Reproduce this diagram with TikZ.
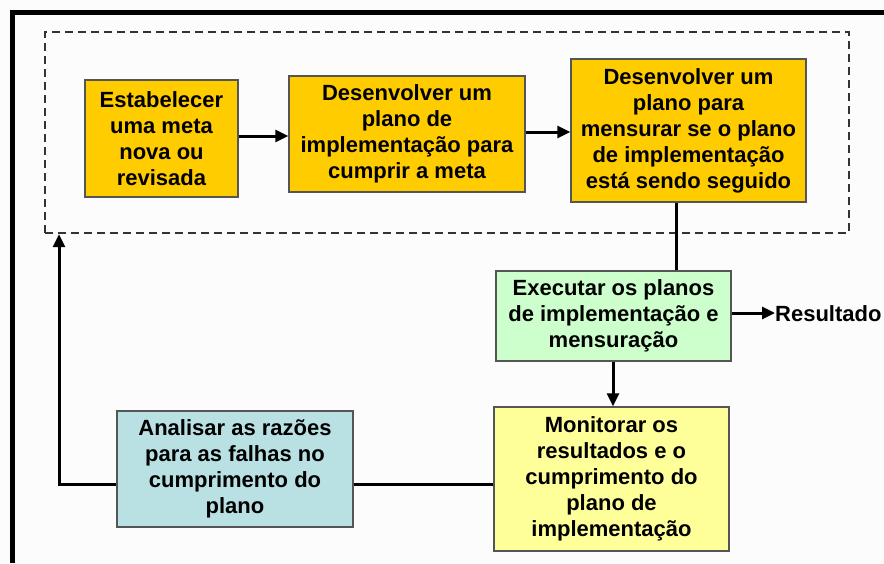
\documentclass[tikz,border=0pt]{standalone}
\usepackage{fontspec}
\setmainfont{Liberation Sans}
\usetikzlibrary{arrows.meta}
\definecolor{gold}{HTML}{FFCC00}
\definecolor{mint}{HTML}{CCFFCC}
\definecolor{paley}{HTML}{FFFF99}
\definecolor{paleb}{HTML}{B9E0E3}
\definecolor{edge}{HTML}{555555}
\tikzset{
  boxnode/.style={draw=edge, line width=1.4pt, inner sep=0pt, align=center,
    font=\fontsize{22}{26}\selectfont\bfseries},
  conn/.style={line width=3pt, black},
  arr/.style={conn, -{Triangle[length=13pt,width=12pt]}},
}
\begin{document}
\begin{tikzpicture}[x=1pt,y=-1pt]
\useasboundingbox (0,0) rectangle (884,563);
\fill[white!99!black] (0,0) rectangle (884,563);
% outer black frame
\fill[black] (10,10) rectangle (884,15);
\fill[black] (10,10) rectangle (15,563);
% dashed group
\node[draw=black!80, line width=2.4pt, dash pattern=on 8pt off 5pt, minimum width=804pt, minimum height=201pt, inner sep=0pt] (grp) at (447,132.5) {};
% boxes
\node[boxnode, fill=gold, minimum width=153pt, minimum height=117pt] (b1) at (161.5,138.5) {Estabelecer\\uma meta\\nova ou\\revisada};
\node[boxnode, fill=gold, minimum width=236pt, minimum height=116pt] (b2) at (407,134) {Desenvolver um\\plano de\\implementação para\\cumprir a meta};
\node[boxnode, fill=gold, minimum width=235pt, minimum height=143pt] (b3) at (688.5,130.5) {Desenvolver um\\plano para\\mensurar se o plano\\de implementação\\está sendo seguido};
\node[boxnode, fill=mint, minimum width=235pt, minimum height=90pt] (b4) at (613.5,316) {Executar os planos\\de implementação e\\mensuração};
\node[boxnode, fill=paley, minimum width=235pt, minimum height=144pt] (b5) at (611.5,479) {Monitorar os\\resultados e o\\cumprimento do\\plano de\\implementação};
\node[boxnode, fill=paleb, minimum width=236pt, minimum height=116pt] (b6) at (235,469) {Analisar as razões\\para as falhas no\\cumprimento do\\plano};
\node[font=\fontsize{22}{26}\selectfont\bfseries, anchor=west, inner sep=0pt] (res) at (775,314) {Resultado};
% connectors
\draw[arr] (b1.east |- 0,136) -- (b2.west |- 0,136);
\draw[arr] (b2.east |- 0,132) -- (b3.west |- 0,132);
\coordinate (v3) at (676,0);
\draw[conn] (b3.south -| v3) -- (b4.north -| v3);
\draw[arr] (b4.east |- 0,313) -- (res.west |- 0,313);
\draw[arr] (b4.south -| 613,0) -- (b5.north -| 613,0);
\coordinate (h5) at (0,484);
\draw[conn] (b5.west |- h5) -- (b6.east |- h5);
\coordinate (c1) at (59,484);
\draw[arr] (b6.west |- h5) -- (c1) -- (c1 |- grp.south);
\end{tikzpicture}
\end{document}
